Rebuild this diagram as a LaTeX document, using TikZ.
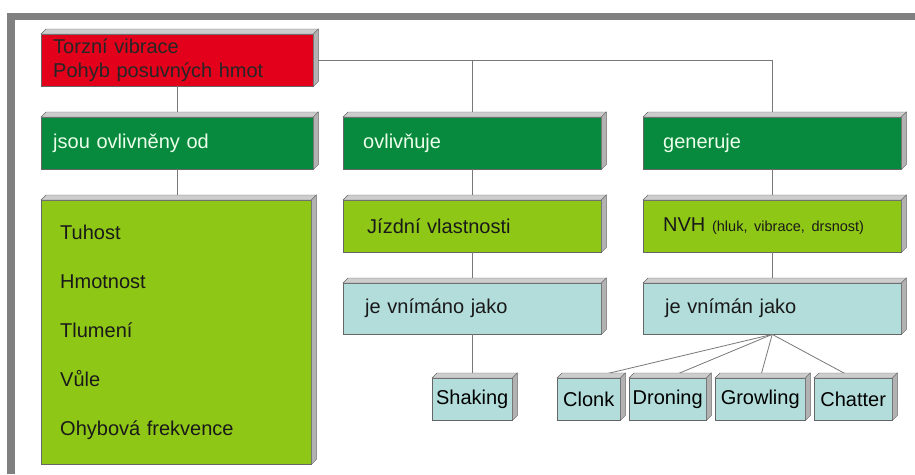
\documentclass[tikz,border=0pt]{standalone}
\usepackage{fontspec}
\setmainfont{Liberation Sans}
\frenchspacing
\definecolor{vibred}{RGB}{226,0,26}
\definecolor{darkgreen}{RGB}{8,138,62}
\definecolor{lightgreen}{RGB}{143,199,22}
\definecolor{lightcyan}{RGB}{178,221,219}
\definecolor{topgray}{RGB}{205,205,205}
\definecolor{sidegray}{RGB}{178,178,178}
\definecolor{framegray}{RGB}{128,128,128}
\definecolor{linegray}{RGB}{120,120,120}
\begin{document}
\begin{tikzpicture}[x=1pt,y=-1pt,font=\fontsize{20}{24}\selectfont]
  \tikzset{
      box/.style={draw=black!60,thin,anchor=north west,inner ysep=0pt,align=left,minimum height=52pt},
      colbox/.style={box,text width=218pt,inner xsep=20pt},
      smallbox/.style={draw=black!60,thin,fill=lightcyan,anchor=north west,inner sep=0pt,minimum height=42pt,align=center},
      conn/.style={draw=linegray,line width=0.8pt},
      topface/.style={fill=topgray,draw=black!60,thin},
      sideface/.style={fill=sidegray,draw=black!60,thin}
  }
  \useasboundingbox (0,0) rectangle (915,474);
  % frame
  \fill[framegray] (7,13) rectangle (915,20);
  \fill[framegray] (7,13) rectangle (15,474);
  % left column
  \node[box,fill=vibred,text=black!85,font=\fontsize{20}{23.5}\selectfont,text width=248pt,inner xsep=12pt] (torz) at (41,34) {Torzní vibrace\\Pohyb posuvných hmot};
  \node[box,fill=darkgreen,text=white!92!green,text width=248pt,inner xsep=12pt] (odkud) at (41,117) {jsou ovlivněny od};
  \node[box,fill=lightgreen,text=black!90,font=\fontsize{20}{49}\selectfont,text width=232pt,inner xsep=19pt,minimum height=264pt] (vlivy) at (41,200)
      {Tuhost\\Hmotnost\\Tlumení\\Vůle\\Ohybová frekvence};
  % middle column
  \node[colbox,fill=darkgreen,text=white!92!green] (ovliv) at (343,117) {ovlivňuje};
  \node[colbox,fill=lightgreen,text=black!90,text width=210pt,inner xsep=24pt] (jizd) at (343,200) {Jízdní vlastnosti};
  \node[colbox,fill=lightcyan,text=black!90,text width=214pt,inner xsep=22pt,minimum height=51pt] (vnimano) at (343,283) {je vnímáno jako};
  % right column
  \node[colbox,fill=darkgreen,text=white!92!green] (gener) at (643,117) {generuje};
  \node[colbox,fill=lightgreen,text=black!90] (nvh) at (643,200) {NVH {\fontsize{14.5}{16}\selectfont (hluk, vibrace, drsnost)}};
  \node[colbox,fill=lightcyan,text=black!90,text width=214pt,inner xsep=22pt,minimum height=51pt] (vniman) at (643,283) {je vnímán jako};
  % bottom row
  \node[smallbox,minimum width=80pt] (shaking) at (432,378) {Shaking};
  \node[smallbox,minimum width=63pt] (clonk) at (557,378) {Clonk};
  \node[smallbox,minimum width=77pt] (droning) at (629,378) {Droning};
  \node[smallbox,minimum width=90pt] (growling) at (715,378) {Growling};
  \node[smallbox,minimum width=78pt] (chatter) at (814,378) {Chatter};
  % connectors
  \draw[conn] (torz.south) -- (odkud.north);
  \draw[conn] (odkud.south) -- (odkud.south |- vlivy.north);
  \draw[conn] (torz.east) -| (gener.north);
  \draw[conn] (ovliv.north) -- (ovliv.north |- torz.east);
  \draw[conn] (ovliv.south) -- (jizd.north);
  \draw[conn] (jizd.south) -- (vnimano.north);
  \draw[conn] (vnimano.south) -- (shaking.north);
  \draw[conn] (gener.south) -- (nvh.north);
  \draw[conn] (nvh.south) -- (vniman.north);
  \foreach \k in {clonk,droning,growling,chatter}
      \draw[conn] (vniman.south) -- (\k.north);
  % 3d faces
  \foreach \n in {torz,odkud,vlivy,ovliv,jizd,vnimano,gener,nvh,vniman,shaking,clonk,droning,growling,chatter}{
      \filldraw[topface] (\n.north west) -- ++(5,-5) -- ([shift={(5,-5)}]\n.north east) -- (\n.north east) -- cycle;
      \filldraw[sideface] (\n.north east) -- ++(5,-5) -- ([shift={(5,-5)}]\n.south east) -- (\n.south east) -- cycle;
  }
\end{tikzpicture}
\end{document}
